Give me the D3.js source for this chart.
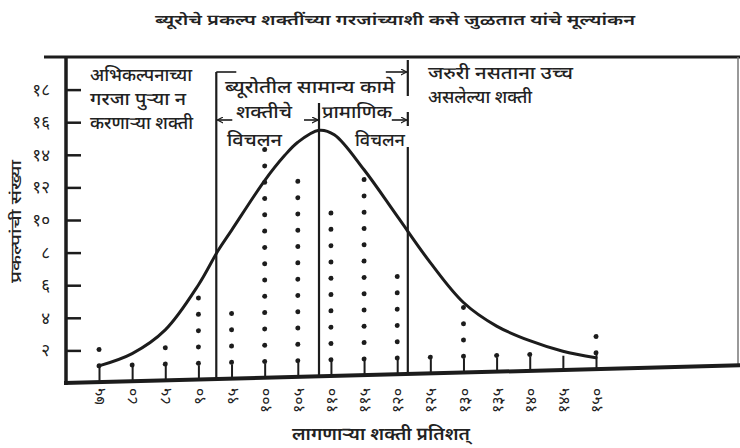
<!DOCTYPE html>
<html>
<head>
<meta charset="utf-8">
<script src="https://cdn.jsdelivr.net/npm/d3@7"></script>
<style>
  body { margin: 0; background: #fff; }
  svg { display: block; }
  text { font-family: "Noto Sans Devanagari", "Noto Sans", "Lohit Devanagari", sans-serif; fill: #222; }
</style>
</head>
<body>
<svg id="chart" width="740" height="448"></svg>
<script>
// Required work force (per cent) on the horizontal axis
const xValues = [75, 80, 85, 90, 95, 100, 105, 110, 115, 120, 125, 130, 135, 140, 145, 150];
const xTickLabels = ["७५", "८०", "८५", "९०", "९५", "१००", "१०५", "११०", "११५", "१२०", "१२५", "१३०", "१३५", "१४०", "१४५", "१५०"];
// Number of projects in each column (one dot per project)
const projectCounts = [2, 1, 2, 5, 4, 14, 12, 10, 12, 6, 1, 4, 1, 1, 0, 2];
// Vertical axis
const yTickValues = [2, 4, 6, 8, 10, 12, 14, 16, 18];
const yTickLabels = ["२", "४", "६", "८", "१०", "१२", "१४", "१६", "१८"];
// Fitted distribution curve
const curveX = [75, 80, 85, 90, 93, 95, 100, 103, 105, 108.2, 110.5, 115, 120, 125, 130, 135, 140, 145, 150];
const curveY = [1.0, 1.7, 3.1, 5.8, 7.9, 9.1, 12.1, 13.6, 14.4, 15.1, 14.8, 12.6, 9.7, 6.8, 4.3, 2.8, 1.85, 1.15, 0.7];
// Standard-deviation markers: -1σ, mean, +1σ
const sdMarkers = [92.7, 108.2, 121.6];

const svg = d3.select("#chart");
const ink = "#1c1c1c";

const x = d3.scaleLinear().domain([75, 150]).range([99, 596]);
const y = d3.scaleLinear().domain([0, 18]).range([383, 89.6]);

const axisX0 = 66, axisY0 = y(0);
const tiltDeg = -1.5;
const k = Math.tan(tiltDeg * Math.PI / 180);
const baseAt = px => axisY0 + k * (px - axisX0);

// text helper: fixed start point and run length
const label = (tx, ty, str, size, len, weight) => {
  const t = svg.append("text")
    .attr("x", tx).attr("y", ty)
    .attr("font-size", size)
    .attr("font-weight", weight || 500)
    .text(str);
  if (len) t.attr("textLength", len).attr("lengthAdjust", "spacingAndGlyphs");
  return t;
};

// ---- title and frame
label(155, 25, "ब्यूरोचे प्रकल्प शक्तींच्या गरजांच्याशी कसे जुळतात यांचे मूल्यांकन", 15, 480, 600);

svg.append("line")
  .attr("x1", 44).attr("x2", 740).attr("y1", 57).attr("y2", 57)
  .attr("stroke", ink).attr("stroke-width", 3);
svg.append("line")
  .attr("x1", 738).attr("x2", 738).attr("y1", 57).attr("y2", baseAt(738))
  .attr("stroke", "#777").attr("stroke-width", 1.5);

// ---- plot body (the baseline runs slightly uphill to the right)
const plot = svg.append("g")
  .attr("transform", `translate(${axisX0},${axisY0}) skewY(${tiltDeg}) translate(${-axisX0},${-axisY0})`);

plot.append("line")
  .attr("x1", 64).attr("x2", 742).attr("y1", y(0)).attr("y2", y(0))
  .attr("stroke", ink).attr("stroke-width", 4);

const xTicks = plot.append("g")
  .attr("transform", `translate(0,${y(0)})`)
  .call(d3.axisBottom(x).tickValues(xValues).tickSize(-(y(0) - y(1) - 2)).tickFormat(""));
xTicks.select(".domain").remove();
xTicks.selectAll(".tick line").attr("stroke", ink).attr("stroke-width", 2);

const dots = [];
xValues.forEach((v, i) => {
  for (let n = 1; n <= projectCounts[i]; n++) dots.push({ v, n });
});
plot.append("g").selectAll("circle")
  .data(dots).join("circle")
  .attr("cx", d => x(d.v)).attr("cy", d => y(d.n))
  .attr("r", 2.5).attr("fill", ink);

const curvePts = curveX.map((cx, i) => [cx, curveY[i]]);
plot.append("path")
  .attr("d", d3.line().x(d => x(d[0])).y(d => y(d[1])).curve(d3.curveCatmullRom.alpha(0.5))(curvePts))
  .attr("fill", "none").attr("stroke", ink).attr("stroke-width", 3)
  .attr("stroke-linecap", "round");

// ---- horizontal tick labels (rotated)
const xLab = svg.append("g")
  .attr("transform", `translate(0,${y(0)})`)
  .call(d3.axisBottom(x).tickValues(xValues).tickSize(0).tickFormat((d, i) => xTickLabels[i]));
xLab.select(".domain").remove();
xLab.selectAll("text")
  .attr("transform", "rotate(-90)")
  .attr("text-anchor", "end")
  .attr("x", -5).attr("y", 0).attr("dy", "0.35em")
  .attr("font-size", 16).attr("font-family", null).style("fill", "#222");

label(292, 440, "लागणाऱ्या शक्ती प्रतिशत्", 18, 178, 600);

// ---- vertical axis
const yAx = svg.append("g")
  .attr("transform", `translate(${axisX0},0)`)
  .call(d3.axisLeft(y).tickValues(yTickValues).tickSize(-15).tickPadding(16).tickFormat((d, i) => yTickLabels[i]));
yAx.select(".domain").remove();
yAx.selectAll(".tick line").attr("stroke", ink).attr("stroke-width", 2.5);
yAx.selectAll("text").attr("font-size", 17).attr("font-family", null).style("fill", "#222");

svg.append("line")
  .attr("x1", axisX0).attr("x2", axisX0).attr("y1", 56).attr("y2", y(0) + 2)
  .attr("stroke", ink).attr("stroke-width", 3.5);

svg.append("text")
  .attr("transform", "translate(21,283) rotate(-90)")
  .attr("font-size", 15).attr("font-weight", 500)
  .attr("textLength", 123).attr("lengthAdjust", "spacingAndGlyphs")
  .text("प्रकल्पांची संख्या");

// ---- standard-deviation lines
const [sdLo, sdMean, sdHi] = sdMarkers.map(x);
const vline = (px, y1, y2) => svg.append("line")
  .attr("x1", px).attr("x2", px).attr("y1", y1).attr("y2", y2)
  .attr("stroke", ink).attr("stroke-width", 2.2);
vline(sdLo, 72, baseAt(sdLo));
vline(sdMean, 103, baseAt(sdMean));
vline(sdHi, 60, 96);
vline(sdHi, 112, 126);
vline(sdHi, 147, baseAt(sdHi));

// arrowheads
svg.append("defs").append("marker")
  .attr("id", "head").attr("viewBox", "0 0 8 8")
  .attr("refX", 7).attr("refY", 4)
  .attr("markerWidth", 7).attr("markerHeight", 7)
  .attr("markerUnits", "userSpaceOnUse")
  .attr("orient", "auto")
  .append("path").attr("d", "M0,0.5 L7,4 L0,7.5")
  .attr("fill", "none").attr("stroke", ink).attr("stroke-width", 1.4);

const hline = (x1, x2, yy, arrow) => {
  const l = svg.append("line")
    .attr("x1", x1).attr("x2", x2).attr("y1", yy).attr("y2", yy)
    .attr("stroke", ink).attr("stroke-width", 1.6);
  if (arrow) l.attr("marker-end", "url(#head)");
};
hline(sdLo, sdLo + 20, 72, false);
hline(sdHi - 22, sdHi - 1, 72, true);
hline(sdLo + 16, sdLo + 1, 120, true);
hline(sdMean - 15, sdMean - 1, 120, true);
hline(sdHi - 16, sdHi - 1, 120, true);

// ---- region annotations
label(90, 81, "अभिकल्पनाच्या", 17, 102);
label(90, 105, "गरजा पुऱ्या न", 17, 96);
label(90, 129, "करणाऱ्या शक्ती", 17, 103);

label(225, 93, "ब्यूरोतील सामान्य कामे", 17, 170);
label(236, 118, "शक्तीचे", 17, 56);
label(322, 118, "प्रामाणिक", 17, 70);
label(227, 146, "विचलन", 17, 55);
label(355, 146, "विचलन", 17, 50);

label(428, 79, "जरुरी नसताना उच्च", 17, 145);
label(428, 103, "असलेल्या शक्ती", 17, 104);
</script>
</body>
</html>
